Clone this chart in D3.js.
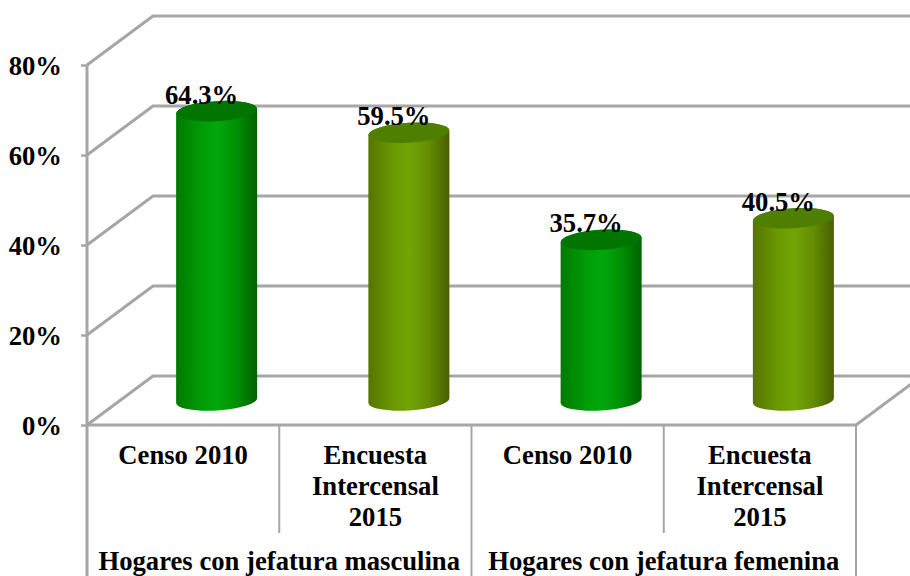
<!DOCTYPE html>
<html><head><meta charset="utf-8">
<script src="https://cdn.jsdelivr.net/npm/d3@7"></script>
<style>html,body{margin:0;padding:0;background:#fff;overflow:hidden}text{font-family:"Liberation Serif",serif;font-weight:bold;fill:#000}</style>
</head><body><svg id="c" width="910" height="576"></svg>
<script>
const categories = ["Censo 2010","Encuesta Intercensal 2015","Censo 2010","Encuesta Intercensal 2015"];
const categoryLines = [["Censo 2010"],["Encuesta","Intercensal","2015"],["Censo 2010"],["Encuesta","Intercensal","2015"]];
const groups = ["Hogares con jefatura masculina","Hogares con jefatura femenina"];
const values = [64.3,59.5,35.7,40.5];
const seriesKind = ["g","o","g","o"];
const ticks = [0,20,40,60,80];

const svg = d3.select("#c");
const y = d3.scaleLinear().domain([0,80]).range([425,65]);
const x = d3.scaleBand().domain(d3.range(4)).range([87,856]);
const gridC="#a6a6a6", dx=66, dy=-49, fs=26.67;
const defs = svg.append("defs");
function grad(id,stops){
  const g=defs.append("linearGradient").attr("id",id);
  stops.forEach(s=>g.append("stop").attr("offset",s[0]).attr("stop-color",s[1]));
}
grad("g",[[0,"#007a00"],[.3,"#009a06"],[.5,"#00a80b"],[.75,"#008f04"],[1,"#006200"]]);
grad("o",[[0,"#567400"],[.3,"#6a9802"],[.5,"#72a605"],[.75,"#648c02"],[1,"#485f00"]]);
const topC={g:"#007500",o:"#4f7f00"};

// walls
const wall = svg.append("g").attr("fill","none").attr("stroke",gridC).attr("stroke-width",3);
ticks.forEach(t=>{
  wall.append("path").attr("d",`M87,${y(t)}L${87+dx},${y(t)+dy}L910,${y(t)+dy}`);
});
wall.append("path").attr("d",`M856,${y(0)}L${856+dx},${y(0)+dy}`);

// axis
const axis = d3.axisLeft(y).tickValues(ticks).tickFormat(d=>d+"%").tickSize(6).tickPadding(19);
const ag = svg.append("g").attr("transform","translate(87,0)").call(axis);
ag.select(".domain").attr("stroke",gridC).attr("stroke-width",3).attr("d",`M0,${y(80)}V576`);
ag.selectAll(".tick line").attr("stroke",gridC).attr("stroke-width",2.5);
ag.selectAll(".tick text").attr("font-size",fs).attr("font-family",null).attr("dy","0.36em").attr("fill","#000");

// floor and dividers
const ln = svg.append("g").attr("stroke",gridC).attr("fill","none");
ln.append("line").attr("x1",87).attr("x2",856).attr("y1",y(0)).attr("y2",y(0)).attr("stroke-width",3);
[[x(1),533],[x(2),576],[x(3),533],[856,576]].forEach(d=>{
  ln.append("line").attr("x1",d[0]).attr("x2",d[0]).attr("y1",y(0)).attr("y2",d[1]).attr("stroke-width",2);
});

// cylinders
const rx=40.5, ry=10, tilt=2.5, rot=-3.5, baseOffset=24.5;
const bars = svg.append("g").selectAll("g").data(values).join("g");
const cx=i=>x(i)+x.bandwidth()/2+33.5;
bars.append("path").attr("fill",(d,i)=>`url(#${seriesKind[i]})`)
  .attr("d",(d,i)=>{
    const c=cx(i), t=y(d)-baseOffset, b=y(0)-baseOffset;
    return `M${c-rx},${t+tilt}L${c-rx},${b+tilt}A${rx},${ry} ${rot} 0 0 ${c+rx},${b-tilt}L${c+rx},${t-tilt}A${rx},${ry} ${rot} 0 0 ${c-rx},${t+tilt}Z`;
  });
bars.append("ellipse").attr("cx",(d,i)=>cx(i)).attr("cy",d=>y(d)-baseOffset).attr("rx",rx).attr("ry",ry)
  .attr("transform",(d,i)=>`rotate(${rot} ${cx(i)} ${y(d)-baseOffset})`)
  .attr("fill",(d,i)=>topC[seriesKind[i]]);
bars.append("text").attr("text-anchor","middle").attr("font-size",fs)
  .attr("x",(d,i)=>cx(i)-15).attr("y",d=>y(d)-32).text(d=>d.toFixed(1)+"%");

// category labels
const cat = svg.append("g").attr("text-anchor","middle").attr("font-size",fs);
categoryLines.forEach((ls,i)=>{
  ls.forEach((l,j)=>cat.append("text").attr("x",x(i)+x.bandwidth()/2).attr("y",464+j*31).text(l));
});
groups.forEach((g,i)=>{
  cat.append("text").attr("x",x(i*2)+x.bandwidth()).attr("y",569.5).text(g);
});
</script></body></html>
